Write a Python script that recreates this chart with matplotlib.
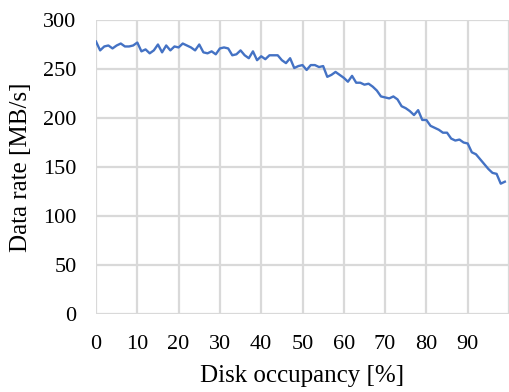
import matplotlib.pyplot as plt

# disk occupancy 0..99 %
occupancy = list(range(100))
rate = [278, 269, 273, 274, 271, 274, 276, 273, 273, 274,
        277, 268, 270, 266, 269, 275, 267, 274, 269, 273,
        272, 276, 274, 272, 269, 275, 267, 266, 268, 265,
        271, 272, 271, 264, 265, 269, 264, 261, 268, 259,
        263, 260, 264, 264, 264, 259, 256, 261, 251, 253,
        254, 249, 254, 254, 252, 253, 242, 244, 247, 244,
        241, 237, 243, 236, 236, 234, 235, 232, 228, 222,
        221, 220, 222, 219, 212, 210, 207, 203, 208, 198,
        198, 192, 190, 188, 185, 185, 179, 177, 178, 175,
        174, 165, 163, 158, 153, 148, 144, 143, 133, 135]
xticks = list(range(0, 101, 10))
xlabels = [str(t) for t in range(0, 100, 10)] + ['']
yticks = list(range(0, 301, 50))

plt.rcParams['font.family'] = ['Liberation Serif', 'DejaVu Serif']

fig = plt.figure(figsize=(5.1, 3.92), dpi=100)
ax = fig.add_axes([96 / 510, 78 / 392, 413 / 510, 294 / 392])

ax.plot(occupancy, rate, color='#4472C4', linewidth=1.7)

ax.set_xlim(0, 100)
ax.set_ylim(0, 300)
ax.set_xticks(xticks, labels=xlabels)
ax.set_yticks(yticks)
ax.grid(True, color='#d9d9d9', linewidth=1.6)
ax.set_axisbelow(True)
for s in ax.spines.values():
    s.set_visible(False)
ax.tick_params(length=0, labelsize=16)
ax.tick_params(axis='x', pad=15)
ax.tick_params(axis='y', pad=14)

ax.set_xlabel('Disk occupancy [%]', fontsize=18, labelpad=8)
ax.set_ylabel('Data rate [MB/s]', fontsize=18, labelpad=8)

fig.savefig('out.png', dpi=100)
